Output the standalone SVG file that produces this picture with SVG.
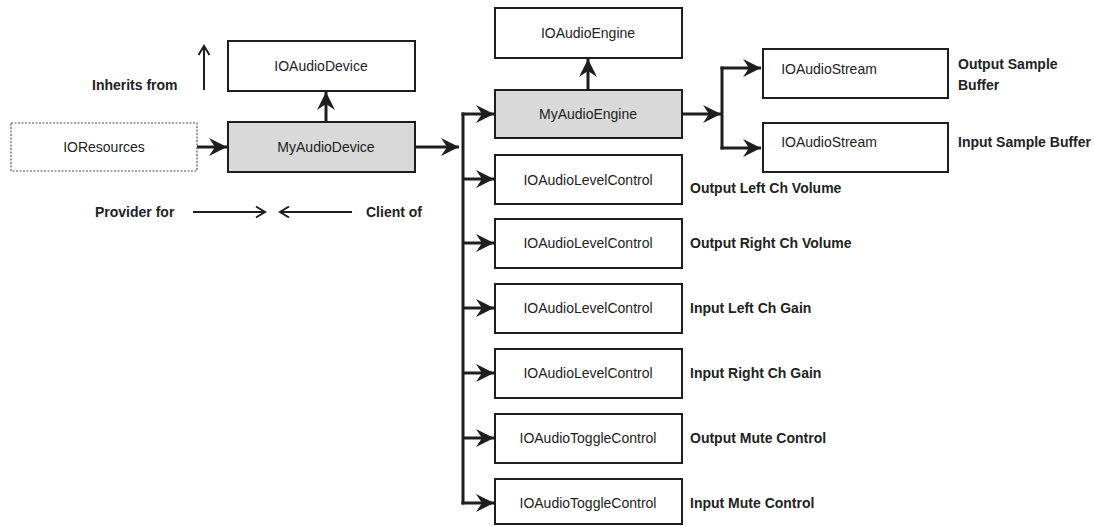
<svg xmlns="http://www.w3.org/2000/svg" width="1094" height="526" viewBox="0 0 1094 526">
<style>
.box{fill:#fff;stroke:#1e1e1e;stroke-width:2}
.gray{fill:#d9d9d9}
.dash{fill:#fff;stroke:#555;stroke-width:1.2;stroke-dasharray:2 1.5}
.t{font-family:"Liberation Sans",Arial,sans-serif;font-size:14px;fill:#222;text-anchor:middle}
.lab{font-family:"Liberation Sans",Arial,sans-serif;font-size:14px;font-weight:bold;fill:#222}
.c{fill:none;stroke:#1e1e1e;stroke-width:3}
.thin{fill:none;stroke:#1e1e1e;stroke-width:2}
</style>
<defs>
<marker id="ah" markerUnits="userSpaceOnUse" markerWidth="22" markerHeight="22" viewBox="-20 -10 22 20" refX="0" refY="0" orient="auto">
<path d="M0,0 L-18,-9 L-12,0 L-18,9 z" fill="#1e1e1e"/>
</marker>
<marker id="ahs" markerUnits="userSpaceOnUse" markerWidth="16" markerHeight="16" viewBox="-13 -8 16 16" refX="0" refY="0" orient="auto">
<path d="M-9,-5.5 L0,0 L-9,5.5" fill="none" stroke="#1e1e1e" stroke-width="2"/>
</marker>
</defs>
<rect width="1094" height="526" fill="#fff"/>

<g id="legend">
<text class="lab" x="92" y="90">Inherits from</text>
<line class="thin" x1="204" y1="90" x2="204" y2="46" marker-end="url(#ahs)"/>
<text class="lab" x="95" y="217">Provider for</text>
<line class="thin" x1="193" y1="212" x2="265" y2="212" marker-end="url(#ahs)"/>
<line class="thin" x1="352" y1="212" x2="280" y2="212" marker-end="url(#ahs)"/>
<text class="lab" x="366" y="217">Client of</text>
</g>

<g id="connectors">
<line class="c" x1="197" y1="147" x2="227" y2="147" marker-end="url(#ah)"/>
<line class="c" x1="326" y1="122" x2="326" y2="92" marker-end="url(#ah)"/>
<line class="c" x1="415" y1="147" x2="459" y2="147" marker-end="url(#ah)"/>
<line class="c" x1="463" y1="112.5" x2="463" y2="504.5"/>
<line class="c" x1="461.5" y1="114" x2="494" y2="114" marker-end="url(#ah)"/>
<line class="c" x1="463" y1="179" x2="494" y2="179" marker-end="url(#ah)"/>
<line class="c" x1="463" y1="243" x2="494" y2="243" marker-end="url(#ah)"/>
<line class="c" x1="463" y1="308" x2="494" y2="308" marker-end="url(#ah)"/>
<line class="c" x1="463" y1="373" x2="494" y2="373" marker-end="url(#ah)"/>
<line class="c" x1="463" y1="438" x2="494" y2="438" marker-end="url(#ah)"/>
<line class="c" x1="461.5" y1="503" x2="494" y2="503" marker-end="url(#ah)"/>
<line class="c" x1="588" y1="90" x2="588" y2="59" marker-end="url(#ah)"/>
<line class="c" x1="682" y1="114" x2="721" y2="114" marker-end="url(#ah)"/>
<line class="c" x1="722" y1="66.5" x2="722" y2="149.5"/>
<line class="c" x1="720.5" y1="68" x2="761" y2="68" marker-end="url(#ah)"/>
<line class="c" x1="720.5" y1="148" x2="761" y2="148" marker-end="url(#ah)"/>
</g>

<g id="IOResources">
<rect class="dash" x="11" y="123" width="186" height="48"/>
<text class="t" x="104" y="152">IOResources</text>
</g>
<g id="IOAudioDevice">
<rect class="box" x="228" y="41" width="187" height="50"/>
<text class="t" x="321" y="71">IOAudioDevice</text>
</g>
<g id="MyAudioDevice">
<rect class="box gray" x="228" y="122" width="187" height="50"/>
<text class="t" x="326" y="152">MyAudioDevice</text>
</g>
<g id="IOAudioEngine">
<rect class="box" x="495" y="8" width="187" height="50"/>
<text class="t" x="588" y="38">IOAudioEngine</text>
</g>
<g id="MyAudioEngine">
<rect class="box gray" x="495" y="90" width="187" height="48"/>
<text class="t" x="588" y="119">MyAudioEngine</text>
</g>
<g id="IOAudioStream1">
<rect class="box" x="763" y="49" width="185" height="49"/>
<text class="t" x="829" y="74">IOAudioStream</text>
</g>
<g id="IOAudioStream2">
<rect class="box" x="763" y="123" width="185" height="49"/>
<text class="t" x="829" y="147">IOAudioStream</text>
</g>
<text class="lab" x="958" y="69">Output Sample</text>
<text class="lab" x="958" y="90">Buffer</text>
<text class="lab" x="958" y="147">Input Sample Buffer</text>

<g id="LevelControl1">
<rect class="box" x="495" y="155" width="187" height="49"/>
<text class="t" x="588" y="185">IOAudioLevelControl</text>
</g>
<text class="lab" x="690" y="193">Output Left Ch Volume</text>
<g id="LevelControl2">
<rect class="box" x="495" y="219" width="187" height="49"/>
<text class="t" x="588" y="248">IOAudioLevelControl</text>
</g>
<text class="lab" x="690" y="248">Output Right Ch Volume</text>
<g id="LevelControl3">
<rect class="box" x="495" y="284" width="187" height="49"/>
<text class="t" x="588" y="313">IOAudioLevelControl</text>
</g>
<text class="lab" x="690" y="313">Input Left Ch Gain</text>
<g id="LevelControl4">
<rect class="box" x="495" y="349" width="187" height="49"/>
<text class="t" x="588" y="378">IOAudioLevelControl</text>
</g>
<text class="lab" x="690" y="378">Input Right Ch Gain</text>
<g id="ToggleControl1">
<rect class="box" x="495" y="414" width="187" height="49"/>
<text class="t" x="588" y="443">IOAudioToggleControl</text>
</g>
<text class="lab" x="690" y="443">Output Mute Control</text>
<g id="ToggleControl2">
<rect class="box" x="495" y="479" width="187" height="45"/>
<text class="t" x="588" y="508">IOAudioToggleControl</text>
</g>
<text class="lab" x="690" y="508">Input Mute Control</text>
</svg>
